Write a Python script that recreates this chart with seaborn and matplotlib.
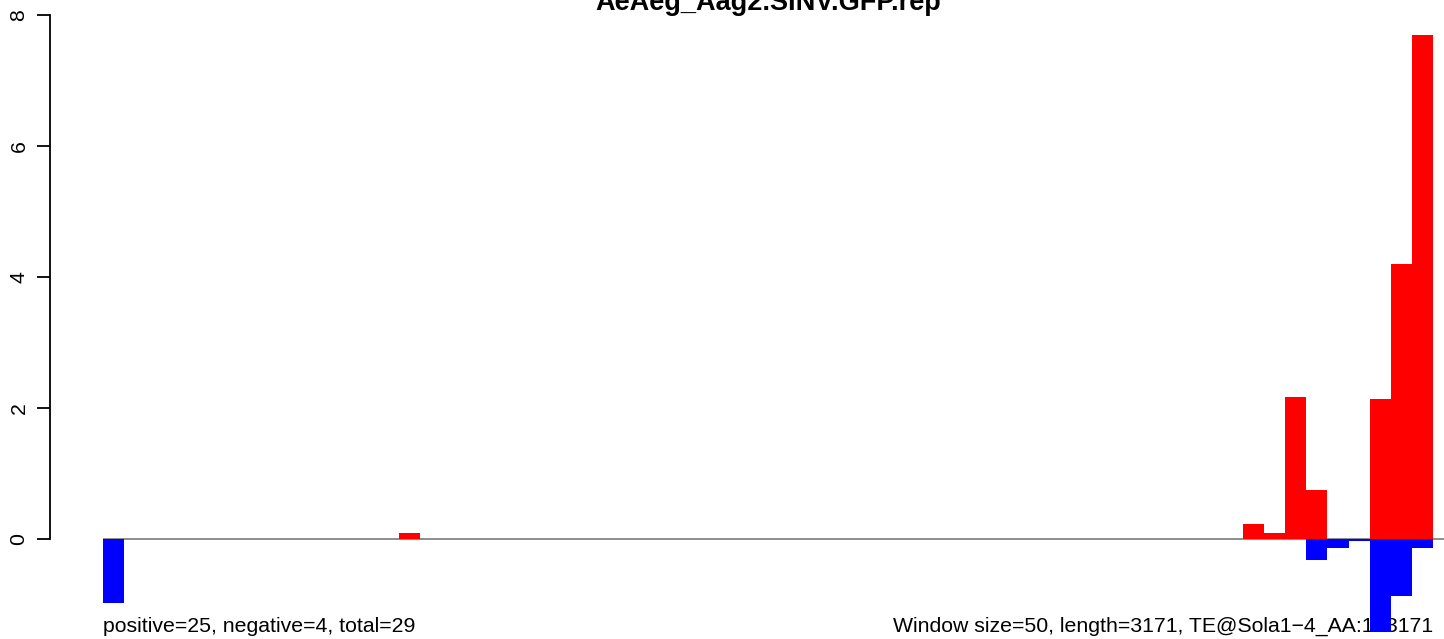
import numpy as np
import pandas as pd
import seaborn as sns
from matplotlib import pyplot as plt

# windows of 50 nt over a 3171 nt element -> 63 bars
n_windows = 63
pos_windows = [14, 54, 55, 56, 57, 60, 61, 62]
pos_values = [0.10, 0.23, 0.10, 2.17, 0.75, 2.14, 4.20, 7.70]
neg_windows = [0, 57, 58, 59, 60, 61, 62]
neg_values = [-0.97, -0.31, -0.14, -0.03, -1.42, -0.86, -0.14]
y_ticks = [0, 2, 4, 6, 8]

title = "AeAeg_Aag2.SINV.GFP.rep"
left_note = "positive=25, negative=4, total=29"
right_note = "Window size=50, length=3171, TE@Sola1\u22124_AA:1\u22123171"

pos = np.zeros(n_windows)
pos[pos_windows] = pos_values
neg = np.zeros(n_windows)
neg[neg_windows] = neg_values
df = pd.DataFrame({"window": np.arange(n_windows), "pos": pos, "neg": neg})

sns.set_theme(style="white")
plt.rcParams["font.family"] = ["Liberation Sans", "DejaVu Sans"]
plt.rcParams["text.color"] = "black"
plt.rcParams["ytick.color"] = "black"

W, H = 1444, 639
fig = plt.figure(figsize=(W / 100, H / 100), dpi=100)
ax = fig.add_axes([50 / W, 0, (W - 50) / W, 1])

# pixel mapping
px_per_x = (1433 - 103) / n_windows
px_per_y = (539.3 - 15) / 8
base = (539.3 - 631.7) / px_per_y

# text first, bars are drawn over it like in the original
ax.text(-0.5, base, left_note, fontsize=15.3, ha="left", va="baseline",
        color="black", zorder=1, clip_on=False)
ax.text(62.5, base, right_note, fontsize=15.3, ha="right", va="baseline",
        color="black", zorder=1, clip_on=False)

ax.hlines(0, -0.5, 64, color="#7a7a7a", lw=1.2, zorder=2)

sns.barplot(data=df, x="window", y="pos", color="#ff0000", saturation=1,
            width=1, linewidth=0, ax=ax, zorder=3)
sns.barplot(data=df, x="window", y="neg", color="#0000ff", saturation=1,
            width=1, linewidth=0, ax=ax, zorder=3)

x0 = -0.5 - (103 - 50) / px_per_x
x1 = -0.5 + (W - 103) / px_per_x
ax.set_xlim(x0, x1)
ax.set_ylim((539.3 - H) / px_per_y, 539.3 / px_per_y)

for s in ["top", "right", "bottom"]:
    ax.spines[s].set_visible(False)
ax.spines["left"].set_bounds(0, 8)
ax.spines["left"].set_color("black")
ax.spines["left"].set_linewidth(1.3)
ax.set_xticks([])
ax.set_xlabel("")
ax.set_ylabel("")
ax.set_yticks(y_ticks)
ax.set_yticklabels([str(v) for v in y_ticks], rotation=90, va="center",
                   fontsize=15.3, color="black")
ax.tick_params(axis="y", length=9.4, width=1.3, color="black", pad=6,
               left=True)
ax.patch.set_alpha(0)

fig.text(768 / W, 1 - 10 / H, title, ha="center", va="baseline",
         fontsize=19.5, fontweight="bold", color="black")

fig.savefig("out.png", dpi=100)
